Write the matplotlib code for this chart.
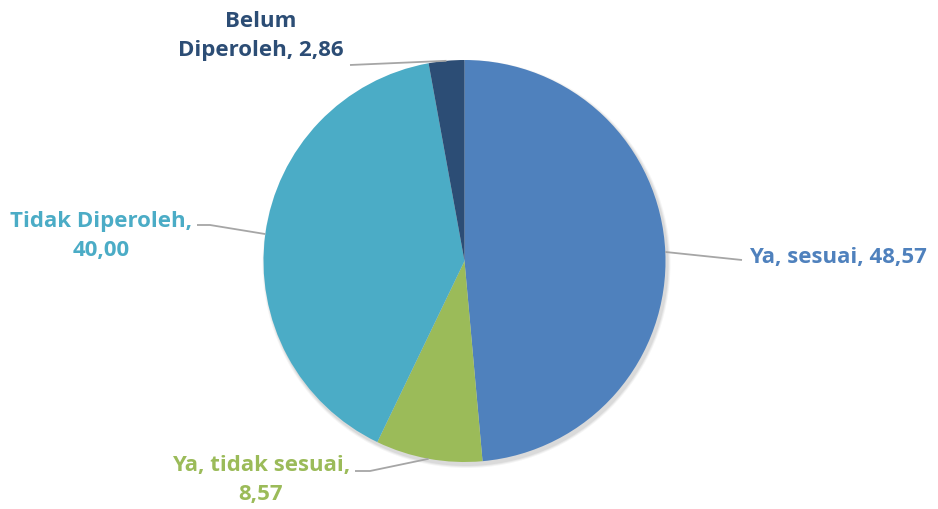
import numpy as np
import matplotlib.pyplot as plt

labels = ["Ya, sesuai", "Ya, tidak sesuai", "Tidak Diperoleh", "Belum Diperoleh"]
values = [48.57, 8.57, 40.00, 2.86]
colors = ["#4F81BD", "#9BBB59", "#4BACC6", "#2C4D75"]

W, H = 938, 510
cx, cy, r = 464.5, H - 262, 201

fig = plt.figure(figsize=(W / 100, H / 100), dpi=100)
ax = fig.add_axes([0, 0, 1, 1])

# soft shadow under the pie
for k, a in zip([6, 4, 2], [0.04, 0.05, 0.06]):
    ax.add_patch(plt.Circle((cx + 2, cy - 3), r + k * 0.5, color="black", alpha=a, lw=0, zorder=0))

wedges, _ = ax.pie(values, colors=colors, startangle=90, counterclock=False,
                   center=(cx, cy), radius=r, frame=True,
                   wedgeprops=dict(linewidth=0))
ax.set_xlim(0, W)
ax.set_ylim(0, H)
ax.set_aspect("equal")
ax.axis("off")

def fmt(v):
    return f"{v:.2f}".replace(".", ",")

# label text, text anchor (x, y in px from top), alignment, leader points (px from top)
texts = [
    (f"{labels[0]}, {fmt(values[0])}", (749, 258), "left", [(742, 261)]),
    (f"Ya, tidak sesuai,\n{fmt(values[1])}", (261, 480), "center", [(370, 472), (355, 472)]),
    (f"Tidak Diperoleh,\n{fmt(values[2])}", (101, 236), "center", [(210, 226), (197, 226)]),
    (f"Belum\nDiperoleh, {fmt(values[3])}", (261, 36), "center", [(350, 66)]),
]

for w, col, (txt, (tx, ty), ha, pts) in zip(wedges, colors, texts):
    ang = np.deg2rad((w.theta1 + w.theta2) / 2)
    px, py = cx + r * np.cos(ang), cy + r * np.sin(ang)
    xs = [px] + [p[0] for p in pts]
    ys = [py] + [H - p[1] for p in pts]
    ax.plot(xs, ys, color="#A6A6A6", lw=1.3, zorder=1, solid_capstyle="butt")
    ax.text(tx, H - ty, txt, color=col, ha=ha, va="center", fontsize=16,
            fontweight="bold", family="Open Sans", linespacing=1.45)

fig.savefig("out.png", dpi=100)
